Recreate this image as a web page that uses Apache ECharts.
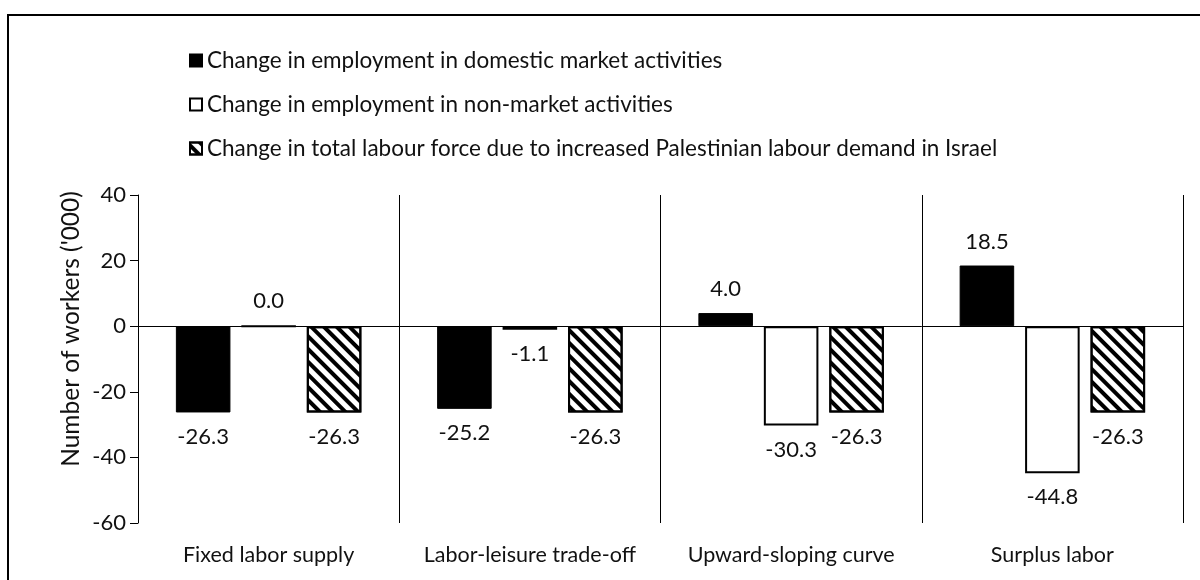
<!DOCTYPE html>
<html>
<head>
<meta charset="utf-8">
<script src="https://cdn.jsdelivr.net/npm/echarts@6/dist/echarts.min.js"></script>
<style>html,body{margin:0;padding:0;background:#fff;}#c{width:1200px;height:580px;}</style>
</head>
<body>
<div id="c"></div>
<script>
const categories = ['Fixed labor supply', 'Labor-leisure trade-off', 'Upward-sloping curve', 'Surplus labor'];
const seriesNames = [
  'Change in employment in domestic market activities',
  'Change in employment in non-market activities',
  'Change in total labour force due to increased Palestinian labour demand in Israel'
];
const marketValues = [-26.3, -25.2, 4.0, 18.5];
const nonMarketValues = [0.0, -1.1, -30.3, -44.8];
const totalValues = [-26.3, -26.3, -26.3, -26.3];
const yTicks = [-60, -40, -20, 0, 20, 40];
const yAxisTitle = "Number of workers ('000)";

const FONT = 'Lato';
const chart = echarts.init(document.getElementById('c'), null, {renderer: 'canvas'});

function mkData(vals) {
  return vals.map(v => ({value: v, label: {position: v < 0 ? 'bottom' : 'top'}}));
}
const labelCfg = {
  show: true, distance: 13, color: '#111', fontFamily: FONT, fontSize: 22,
  formatter: p => Number(p.value).toFixed(1)
};

const option = {
  animation: false,
  backgroundColor: '#fff',
  textStyle: {fontFamily: FONT},
  legend: {
    orient: 'vertical', left: 184, top: 44, itemGap: 21,
    itemWidth: 12, itemHeight: 12, icon: 'rect',
    textStyle: {fontFamily: FONT, fontSize: 22.5, color: '#111'},
    data: seriesNames
  },
  grid: {left: 138, right: 17, top: 195, bottom: 57, containLabel: false},
  xAxis: {
    type: 'category', data: categories,
    axisLine: {show: false}, axisTick: {show: false},
    axisLabel: {interval: 0, hideOverlap: false, fontFamily: FONT, fontSize: 21.5, color: '#111', margin: 21},
    splitLine: {show: true, interval: 0, lineStyle: {color: '#000', width: 1}}
  },
  yAxis: {
    type: 'value', min: yTicks[0], max: yTicks[yTicks.length - 1], interval: 20,
    axisLine: {show: true, lineStyle: {color: '#000', width: 1}},
    axisTick: {show: true, length: 8, lineStyle: {color: '#000'}},
    axisLabel: {fontFamily: FONT, fontSize: 22, color: '#111', margin: 12},
    splitLine: {show: false}
  },
  series: [
    {
      name: seriesNames[0], type: 'bar', data: mkData(marketValues),
      barGap: '20%', barCategoryGap: '29%',
      itemStyle: {color: '#000', borderColor: '#000', borderWidth: 1},
      label: labelCfg,
      markLine: {
        silent: true, symbol: 'none', label: {show: false},
        lineStyle: {color: '#000', width: 1, type: 'solid'},
        data: [{yAxis: 0}]
      }
    },
    {
      name: seriesNames[1], type: 'bar', data: mkData(nonMarketValues),
      itemStyle: {color: '#fff', borderColor: '#000', borderWidth: 2},
      label: labelCfg
    },
    {
      name: seriesNames[2], type: 'bar', data: mkData(totalValues),
      itemStyle: {
        color: '#fff', borderColor: '#000', borderWidth: 2,
        decal: {symbol: 'rect', symbolSize: 1, color: '#000', dashArrayX: [1, 0], dashArrayY: [4, 4.5], rotation: Math.PI / 4}
      },
      label: labelCfg
    }
  ],
  graphic: [
    {type: 'rect', shape: {x: 8, y: 15, width: 1200, height: 600}, style: {fill: 'none', stroke: '#000', lineWidth: 2}, silent: true},
    {type: 'text', x: 71, y: 329, rotation: Math.PI / 2,
     style: {text: yAxisTitle, fontFamily: FONT, fontSize: 24.5, fill: '#111', textAlign: 'center', textVerticalAlign: 'middle'}}
  ]
};
chart.setOption(option);
</script>
</body>
</html>
